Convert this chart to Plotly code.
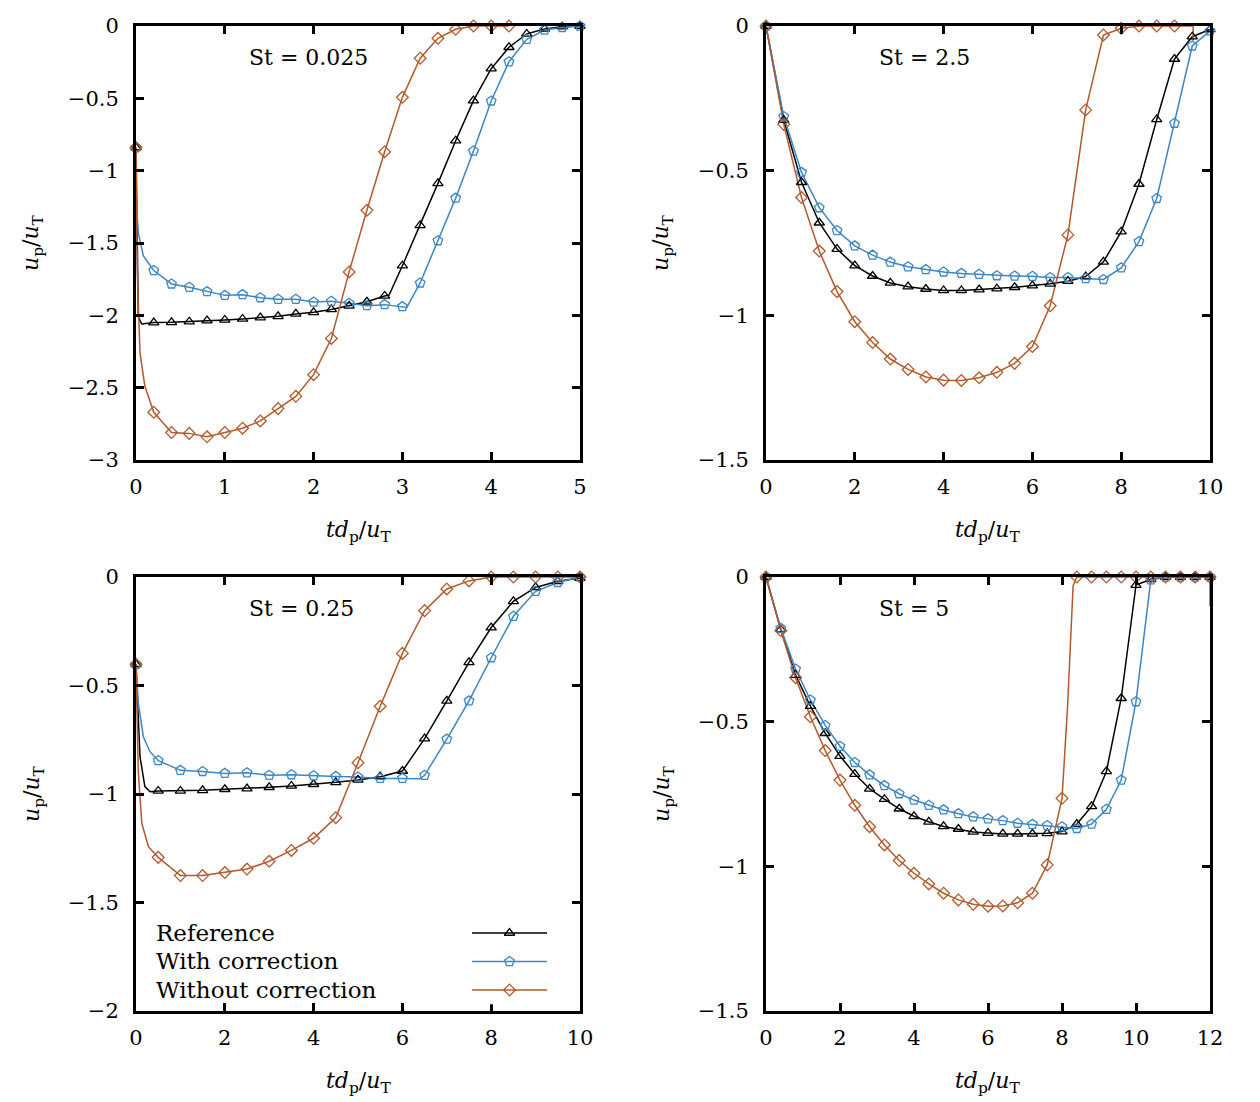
import plotly.graph_objects as go

# ---------------- data ----------------
# Panel St = 0.025
p1_t = [0, 0.2, 0.4, 0.6, 0.8, 1.0, 1.2, 1.4, 1.6, 1.8, 2.0, 2.2, 2.4, 2.6, 2.8,
        3.0, 3.2, 3.4, 3.6, 3.8, 4.0, 4.2, 4.4, 4.6, 4.8, 5.0]
p1_ref = [-0.84, -2.05, -2.048, -2.044, -2.037, -2.032, -2.025, -2.016, -2.007, -1.99,
          -1.979, -1.959, -1.935, -1.906, -1.866, -1.657, -1.378, -1.088, -0.793, -0.516,
          -0.295, -0.147, -0.055, -0.02, -0.005, 0.0]
p1_with = [-0.84, -1.69, -1.783, -1.806, -1.836, -1.862, -1.857, -1.878, -1.889, -1.889,
           -1.908, -1.903, -1.917, -1.933, -1.926, -1.94, -1.776, -1.484, -1.19, -0.864,
           -0.518, -0.247, -0.092, -0.028, -0.01, 0.0]
p1_t_wo = [0, 0.2, 0.4, 0.6, 0.8, 1.0, 1.2, 1.4, 1.6, 1.8, 2.0, 2.2, 2.4, 2.6, 2.8,
           3.0, 3.2, 3.4, 3.6, 3.8, 4.0, 4.2]
p1_without = [-0.84, -2.67, -2.81, -2.816, -2.84, -2.81, -2.78, -2.73, -2.645, -2.56,
              -2.41, -2.16, -1.70, -1.274, -0.869, -0.493, -0.223, -0.085, -0.023, 0, 0, 0]
# additional line points (curve between markers)
p1_ref_xt = [0.026, 0.064, 2.85]
p1_ref_xu = [-2.01, -2.06, -1.86]
p1_with_xt = [0.002, 0.026, 0.083, 3.05]
p1_with_xu = [-1.2, -1.43, -1.59, -1.945]
p1_wo_xt = [0.015, 0.045, 0.1]
p1_wo_xu = [-1.71, -2.26, -2.49]

# Panel St = 2.5
p2_t = [0, 0.4, 0.8, 1.2, 1.6, 2.0, 2.4, 2.8, 3.2, 3.6, 4.0, 4.4, 4.8, 5.2, 5.6, 6.0,
        6.4, 6.8, 7.2, 7.6, 8.0, 8.4, 8.8, 9.2, 9.6, 10.0]
p2_ref = [0, -0.325, -0.54, -0.68, -0.771, -0.828, -0.864, -0.888, -0.901, -0.909,
          -0.914, -0.914, -0.911, -0.908, -0.903, -0.897, -0.891, -0.882, -0.866, -0.815,
          -0.711, -0.546, -0.323, -0.114, -0.037, -0.012]
p2_with = [0, -0.313, -0.506, -0.628, -0.707, -0.76, -0.792, -0.816, -0.832, -0.842,
           -0.85, -0.855, -0.858, -0.863, -0.864, -0.865, -0.869, -0.869, -0.873, -0.876,
           -0.836, -0.745, -0.596, -0.336, -0.069, -0.017]
p2_t_wo = [0, 0.4, 0.8, 1.2, 1.6, 2.0, 2.4, 2.8, 3.2, 3.6, 4.0, 4.4, 4.8, 5.2, 5.6, 6.0,
           6.4, 6.8, 7.2, 7.6, 8.0, 8.4, 8.8, 9.2]
p2_without = [0, -0.34, -0.593, -0.778, -0.918, -1.022, -1.094, -1.151, -1.187, -1.213,
              -1.224, -1.225, -1.216, -1.197, -1.166, -1.108, -0.967, -0.722, -0.29,
              -0.031, -0.008, 0, 0, 0]
p2_ref_xt, p2_ref_xu = [], []
p2_with_xt, p2_with_xu = [], []
p2_wo_xt = [9.62, 9.62]
p2_wo_xu = [0.0, -0.05]

# Panel St = 0.25
p3_t = [0, 0.5, 1.0, 1.5, 2.0, 2.5, 3.0, 3.5, 4.0, 4.5, 5.0, 5.5, 6.0, 6.5, 7.0, 7.5,
        8.0, 8.5, 9.0, 9.5, 10.0]
p3_ref = [-0.402, -0.986, -0.986, -0.983, -0.978, -0.975, -0.969, -0.963, -0.955, -0.946,
          -0.935, -0.92, -0.894, -0.745, -0.571, -0.393, -0.233, -0.112, -0.048, -0.02,
          -0.005]
p3_with = [-0.402, -0.846, -0.891, -0.896, -0.905, -0.902, -0.914, -0.911, -0.916, -0.919,
           -0.922, -0.928, -0.928, -0.914, -0.747, -0.571, -0.372, -0.181, -0.066, -0.025,
           0.0]
p3_t_wo = p3_t
p3_without = [-0.402, -1.292, -1.376, -1.376, -1.362, -1.346, -1.31, -1.26, -1.204,
              -1.109, -0.856, -0.596, -0.352, -0.155, -0.055, -0.018, 0, 0, 0, 0, 0]
p3_ref_xt = [0.09, 0.2, 0.32]
p3_ref_xu = [-0.828, -0.966, -0.99]
p3_with_xt = [0.05, 0.165, 0.315, 6.4]
p3_with_xu = [-0.58, -0.736, -0.805, -0.93]
p3_wo_xt = [0.05, 0.13, 0.28]
p3_wo_xu = [-0.89, -1.135, -1.243]

# Panel St = 5
p4_t = [0, 0.4, 0.8, 1.2, 1.6, 2.0, 2.4, 2.8, 3.2, 3.6, 4.0, 4.4, 4.8, 5.2, 5.6, 6.0,
        6.4, 6.8, 7.2, 7.6, 8.0, 8.4, 8.8, 9.2, 9.6, 10.0, 10.4, 10.8, 11.2, 11.6, 12.0]
p4_ref = [0, -0.181, -0.339, -0.446, -0.54, -0.619, -0.681, -0.732, -0.768, -0.801,
          -0.827, -0.846, -0.862, -0.871, -0.881, -0.885, -0.888, -0.888, -0.888, -0.886,
          -0.88, -0.854, -0.793, -0.672, -0.419, -0.028, -0.008, 0, 0, 0, 0]
p4_with = [0, -0.177, -0.318, -0.425, -0.513, -0.585, -0.641, -0.684, -0.721, -0.749,
           -0.771, -0.789, -0.805, -0.818, -0.829, -0.836, -0.842, -0.851, -0.855, -0.859,
           -0.863, -0.869, -0.854, -0.803, -0.702, -0.431, -0.01, 0, 0, 0, 0]
p4_t_wo = p4_t
p4_without = [0, -0.185, -0.348, -0.483, -0.6, -0.702, -0.789, -0.863, -0.926, -0.98,
              -1.024, -1.061, -1.093, -1.116, -1.131, -1.138, -1.137, -1.126, -1.093,
              -0.995, -0.765, 0, 0, 0, 0, 0, 0, 0, 0, 0, 0]
p4_ref_xt, p4_ref_xu = [], []
p4_with_xt, p4_with_xu = [], []
p4_wo_xt = [8.15, 8.3, 12.0]
p4_wo_xu = [-0.45, -0.03, -0.1]

panel_titles = ["St = 0.025", "St = 2.5", "St = 0.25", "St = 5"]
series_names = ["Reference", "With correction", "Without correction"]

x_ranges = [[0, 5], [0, 10], [0, 10], [0, 12]]
x_ticks = [[0, 1, 2, 3, 4, 5], [0, 2, 4, 6, 8, 10], [0, 2, 4, 6, 8, 10],
           [0, 2, 4, 6, 8, 10, 12]]
y_ranges = [[-3, 0], [-1.5, 0], [-2, 0], [-1.5, 0]]
y_ticks = [[0, -0.5, -1, -1.5, -2, -2.5, -3], [0, -0.5, -1, -1.5],
           [0, -0.5, -1, -1.5, -2], [0, -0.5, -1, -1.5]]

# ---------------- styles ----------------
OFF = 8                       # the page body adds an 8px margin
W, H = 1260 - OFF, 1102 - OFF
COL_REF = "#000000"
COL_WITH = "#3b86c6"
COL_WO = "#b5582a"
colors = [COL_REF, COL_WITH, COL_WO]
symbols = ["triangle-up-open", "pentagon-open", "diamond-open"]
msizes = [9, 10, 9]
FONT = "DejaVu Serif"


def px(x):
    return (x - OFF) / W


def py(y):
    return 1 - (y - OFF) / H


# pixel boxes of the four panels in the target picture: (left, right, top, bottom)
boxes = [(136, 580, 26, 460), (766, 1210, 26, 460),
         (136, 580, 577, 1011), (766, 1210, 577, 1011)]


def merge(t, u, xt, xu):
    pts = list(zip(t, u)) + list(zip(xt, xu))
    pts.sort(key=lambda p: p[0])
    return [p[0] for p in pts], [p[1] for p in pts]


panels = [
    (p1_t, p1_ref, p1_with, p1_t_wo, p1_without,
     (p1_ref_xt, p1_ref_xu), (p1_with_xt, p1_with_xu), (p1_wo_xt, p1_wo_xu)),
    (p2_t, p2_ref, p2_with, p2_t_wo, p2_without,
     (p2_ref_xt, p2_ref_xu), (p2_with_xt, p2_with_xu), (p2_wo_xt, p2_wo_xu)),
    (p3_t, p3_ref, p3_with, p3_t_wo, p3_without,
     (p3_ref_xt, p3_ref_xu), (p3_with_xt, p3_with_xu), (p3_wo_xt, p3_wo_xu)),
    (p4_t, p4_ref, p4_with, p4_t_wo, p4_without,
     (p4_ref_xt, p4_ref_xu), (p4_with_xt, p4_with_xu), (p4_wo_xt, p4_wo_xu)),
]

fig = go.Figure()
layout = {}
annotations = []

for i, (t, ref, wth, t_wo, wo, ex_ref, ex_with, ex_wo) in enumerate(panels):
    k = i + 1
    xa = "x" if k == 1 else f"x{k}"
    ya = "y" if k == 1 else f"y{k}"
    l, r, tp, bt = boxes[i]
    layout["xaxis" if k == 1 else f"xaxis{k}"] = dict(
        domain=[px(l), px(r)], range=x_ranges[i], anchor=ya, automargin=False,
        tickvals=x_ticks[i], ticktext=[str(v) for v in x_ticks[i]],
        ticks="inside", ticklen=8, tickwidth=2.5, tickcolor="black",
        showline=True, linewidth=3, linecolor="black", mirror="allticks",
        showgrid=False, zeroline=False, ticklabelstandoff=6,
        tickfont=dict(family=FONT, size=21, color="black"))
    layout["yaxis" if k == 1 else f"yaxis{k}"] = dict(
        domain=[py(bt), py(tp)], range=y_ranges[i], anchor=xa, automargin=False,
        tickvals=y_ticks[i],
        ticktext=[("0" if v == 0 else "\u2212" + ("%g" % abs(v))) for v in y_ticks[i]],
        ticks="inside", ticklen=8, tickwidth=2.5, tickcolor="black",
        showline=True, linewidth=3, linecolor="black", mirror="allticks",
        showgrid=False, zeroline=False, ticklabelstandoff=10,
        tickfont=dict(family=FONT, size=21, color="black"))

    data = [(t, ref, ex_ref), (t, wth, ex_with), (t_wo, wo, ex_wo)]
    for s, (tt, uu, ex) in enumerate(data):
        lx, ly = merge(tt, uu, ex[0], ex[1])
        fig.add_trace(go.Scatter(x=lx, y=ly, mode="lines", xaxis=xa, yaxis=ya,
                                 line=dict(color=colors[s], width=1.5),
                                 showlegend=False, hoverinfo="skip", cliponaxis=False))
    for s, (tt, uu, ex) in enumerate(data):
        fig.add_trace(go.Scatter(x=tt, y=uu, mode="markers", xaxis=xa, yaxis=ya,
                                 name=series_names[s],
                                 marker=dict(symbol=symbols[s], size=msizes[s],
                                             color=colors[s], line=dict(width=1.3, color=colors[s])),
                                 showlegend=False, cliponaxis=False))

    # panel label
    annotations.append(dict(text=panel_titles[i], xref="paper", yref="paper",
                            x=px(l + 111), y=py(tp + 31), xanchor="left",
                            yanchor="middle", showarrow=False,
                            font=dict(family=FONT, size=22, color="black")))
    # axis titles
    annotations.append(dict(text="<i>td</i><sub>p</sub>/<i>u</i><sub>T</sub>",
                            xref="paper", yref="paper", x=px((l + r) / 2),
                            y=py(bt + 71), xanchor="center", yanchor="middle",
                            showarrow=False, font=dict(family=FONT, size=22, color="black")))
    annotations.append(dict(text="<i>u</i><sub>p</sub>/<i>u</i><sub>T</sub>",
                            xref="paper", yref="paper", x=px(l - 103),
                            y=py((tp + bt) / 2), xanchor="center", yanchor="middle",
                            textangle=-90, showarrow=False,
                            font=dict(family=FONT, size=22, color="black")))

# legend (drawn inside St = 0.25 panel)
leg_rows = [0, 1, 2]
layout["xaxis5"] = dict(domain=[px(472), px(547)], range=[0, 1], visible=False,
                        anchor="y5", fixedrange=True, automargin=False)
layout["yaxis5"] = dict(domain=[py(1004.25), py(918.75)], range=[2.5, -0.5],
                        visible=False, anchor="x5", fixedrange=True, automargin=False)
for s in range(3):
    fig.add_trace(go.Scatter(x=[0, 0.5, 1], y=[leg_rows[s]] * 3, mode="lines",
                             xaxis="x5", yaxis="y5", line=dict(color=colors[s], width=1.5),
                             showlegend=False, hoverinfo="skip"))
    fig.add_trace(go.Scatter(x=[0.5], y=[leg_rows[s]], mode="markers",
                             xaxis="x5", yaxis="y5",
                             marker=dict(symbol=symbols[s], size=msizes[s], color=colors[s],
                                         line=dict(width=1.3, color=colors[s])),
                             showlegend=False, hoverinfo="skip"))
    annotations.append(dict(text=series_names[s], xref="paper", yref="paper",
                            x=px(154), y=py(933 + 28.3 * s), xanchor="left",
                            yanchor="middle", showarrow=False,
                            font=dict(family=FONT, size=23, color="black")))

fig.update_layout(width=W, height=H, margin=dict(l=0, r=0, t=0, b=0, autoexpand=False),
                  plot_bgcolor="white", paper_bgcolor="white",
                  annotations=annotations, showlegend=False, **layout)

fig.write_html("out.html")
